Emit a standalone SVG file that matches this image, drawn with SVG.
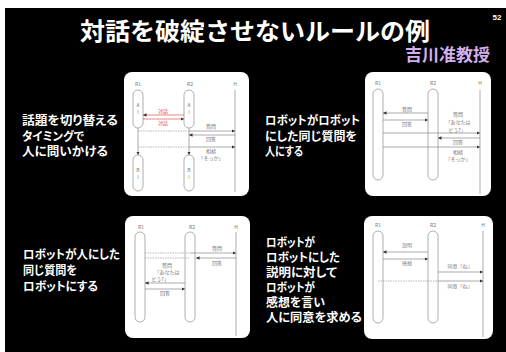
<svg xmlns="http://www.w3.org/2000/svg" width="506" height="352" viewBox="0 0 506 352">
<style>
.jp{font-family:"Noto Sans CJK JP","Liberation Sans",sans-serif}
.side{font-family:"Noto Sans CJK JP","Liberation Sans",sans-serif;font-size:12px;font-weight:bold;fill:#fff;font-feature-settings:"palt"}
.panel{fill:#fff}
.ll{fill:#fff;stroke:#999;stroke-width:0.8}
.ln{stroke:#888;stroke-width:0.7;fill:none}
.ar{stroke:#888;stroke-width:0.7;fill:none;marker-end:url(#ah)}
.ra{stroke:#d55;stroke-width:0.7;fill:none;marker-end:url(#ah)}
.dt{stroke:#999;stroke-width:0.7;stroke-dasharray:1.5 1;fill:none}
.lb{font-family:"Noto Sans CJK JP","Liberation Sans",sans-serif;font-size:5px;fill:#777;text-anchor:middle}
.rl{font-family:"Noto Sans CJK JP","Liberation Sans",sans-serif;font-size:5px;fill:#e44;text-anchor:middle}
</style>
<defs>
<marker id="ah" viewBox="0 0 6 6" refX="6" refY="3" markerWidth="3.5" markerHeight="3.5" markerUnits="userSpaceOnUse" orient="auto"><path d="M0,0L6,3L0,6z" fill="#333"/></marker>
</defs>
<rect x="0" y="0" width="506" height="352" fill="#fff"/>
<rect x="5" y="8" width="501" height="344" fill="#000"/>
<g id="title">
<text class="jp" x="255" y="40" font-size="24" font-weight="bold" fill="#fff" text-anchor="middle" textLength="350" lengthAdjust="spacingAndGlyphs">対話を破綻させないルールの例</text>
<text x="497" y="20" font-family="Liberation Sans,sans-serif" font-size="8" font-weight="bold" fill="#fff" text-anchor="middle">52</text>
<text class="jp" x="490" y="61" font-size="17" font-weight="bold" fill="#d2b0f0" text-anchor="end">吉川准教授</text>
</g>
<g id="text1" class="side">
<text x="22" y="125" textLength="96" lengthAdjust="spacingAndGlyphs">話題を切り替える</text>
<text x="22" y="141" textLength="62" lengthAdjust="spacingAndGlyphs">タイミングで</text>
<text x="22" y="156" textLength="86" lengthAdjust="spacingAndGlyphs">人に問いかける</text>
</g>
<g id="text2" class="side">
<text x="265" y="125" textLength="95" lengthAdjust="spacingAndGlyphs">ロボットがロボット</text>
<text x="265" y="141" textLength="92" lengthAdjust="spacingAndGlyphs">にした同じ質問を</text>
<text x="265" y="156" textLength="38" lengthAdjust="spacingAndGlyphs">人にする</text>
</g>
<g id="text3" class="side">
<text x="23" y="259" textLength="97" lengthAdjust="spacingAndGlyphs">ロボットが人にした</text>
<text x="23" y="275" textLength="54" lengthAdjust="spacingAndGlyphs">同じ質問を</text>
<text x="23" y="291" textLength="75" lengthAdjust="spacingAndGlyphs">ロボットにする</text>
</g>
<g id="text4" class="side">
<text x="266" y="247" textLength="49" lengthAdjust="spacingAndGlyphs">ロボットが</text>
<text x="266" y="262" textLength="74" lengthAdjust="spacingAndGlyphs">ロボットにした</text>
<text x="266" y="277" textLength="71" lengthAdjust="spacingAndGlyphs">説明に対して</text>
<text x="266" y="292" textLength="49" lengthAdjust="spacingAndGlyphs">ロボットが</text>
<text x="266" y="307" textLength="59" lengthAdjust="spacingAndGlyphs">感想を言い</text>
<text x="266" y="322" textLength="96" lengthAdjust="spacingAndGlyphs">人に同意を求める</text>
</g>
<g id="panel1">
<rect class="panel" x="124" y="72" width="125" height="124" rx="8"/>
<text class="lb" x="138" y="86">R1</text><text class="lb" x="190" y="86">R2</text><text class="lb" x="235" y="86">H</text>
<line class="ln" x1="235" y1="90" x2="235" y2="192"/>
<line class="ar" x1="138" y1="128" x2="138" y2="155"/>
<line class="ar" x1="189" y1="128" x2="189" y2="155"/>
<rect class="ll" x="133" y="90" width="10" height="38" rx="5"/>
<rect class="ll" x="184" y="90" width="10" height="38" rx="5"/>
<rect class="ll" x="133" y="155" width="10" height="36" rx="5"/>
<rect class="ll" x="184" y="155" width="10" height="36" rx="5"/>
<text class="lb" x="138" y="107">A</text><text class="lb" x="138" y="114">I</text>
<text class="lb" x="189" y="107">A</text><text class="lb" x="189" y="114">I</text>
<text class="lb" x="138" y="172">B</text><text class="lb" x="138" y="179">I</text>
<text class="lb" x="189" y="172">B</text><text class="lb" x="189" y="179">I</text>
</g>
<g id="panel2">
<rect class="panel" x="365" y="72" width="126" height="124" rx="8"/>
<text class="lb" x="378" y="85">R1</text><text class="lb" x="433" y="85">R2</text><text class="lb" x="480" y="85">H</text>
<line class="ln" x1="480" y1="90" x2="480" y2="194"/>
<rect class="ll" x="373" y="89" width="10" height="91" rx="5"/>
<rect class="ll" x="428" y="89" width="10" height="91" rx="5"/>
</g>
<g id="panel3">
<rect class="panel" x="125" y="216" width="125" height="122" rx="8"/>
<text class="lb" x="141" y="229">R1</text><text class="lb" x="192" y="229">R2</text><text class="lb" x="236" y="229">H</text>
<line class="ln" x1="236" y1="232" x2="236" y2="336"/>
<rect class="ll" x="135" y="232" width="10" height="90" rx="5"/>
<rect class="ll" x="185" y="232" width="10" height="90" rx="5"/>
</g>
<g id="panel4">
<rect class="panel" x="364" y="216" width="129" height="123" rx="8"/>
<text class="lb" x="378" y="227">R1</text><text class="lb" x="433" y="227">R2</text><text class="lb" x="483" y="227">H</text>
<line class="ln" x1="483" y1="231" x2="483" y2="337"/>
<rect class="ll" x="373" y="231" width="10" height="92" rx="5"/>
<rect class="ll" x="428" y="231" width="10" height="92" rx="5"/>
</g>
<g id="connectors">
<line class="ra" x1="184" y1="115" x2="143" y2="115"/>
<text class="rl" x="163" y="113">対話</text>
<line class="ra" x1="143" y1="119" x2="184" y2="119"/>
<text class="rl" x="163" y="125">対話</text>
<line class="dt" x1="138" y1="131" x2="189" y2="131"/>
<line class="ar" x1="189" y1="131" x2="235" y2="131"/>
<text class="lb" x="211" y="128">質問</text>
<line class="ar" x1="235" y1="135" x2="189" y2="135"/>
<text class="lb" x="211" y="141">回答</text>
<line class="dt" x1="138" y1="147" x2="189" y2="147"/>
<line class="ar" x1="189" y1="147" x2="235" y2="147"/>
<text class="lb" x="211" y="153">相槌</text>
<text class="lb" x="211" y="160">「そっか」</text>

<line class="ar" x1="428" y1="113" x2="383" y2="113"/>
<text class="lb" x="407" y="111">質問</text>
<line class="ar" x1="383" y1="120" x2="428" y2="120"/>
<text class="lb" x="407" y="126">回答</text>
<line class="ar" x1="383" y1="133" x2="480" y2="133"/>
<text class="lb" x="458" y="116">質問</text>
<text class="lb" x="458" y="124">「あなたは</text>
<text class="lb" x="457" y="132">どう?」</text>
<line class="ar" x1="480" y1="138" x2="438" y2="138"/>
<text class="lb" x="458" y="144">回答</text>
<line class="ar" x1="383" y1="147" x2="480" y2="147"/>
<text class="lb" x="458" y="154">相槌</text>
<text class="lb" x="458" y="161">「そっか」</text>

<line class="dt" x1="145" y1="253" x2="190" y2="253"/>
<line class="ar" x1="190" y1="253" x2="236" y2="253"/>
<text class="lb" x="217" y="250">質問</text>
<line class="dt" x1="145" y1="258" x2="190" y2="258"/>
<line class="ar" x1="236" y1="258" x2="196" y2="258"/>
<text class="lb" x="217" y="265">回答</text>
<line class="ar" x1="185" y1="283" x2="145" y2="283"/>
<text class="lb" x="167" y="267">質問</text>
<text class="lb" x="167" y="274">「あなたは</text>
<text class="lb" x="160" y="281">どう?」</text>
<line class="ar" x1="145" y1="289" x2="185" y2="289"/>
<text class="lb" x="165" y="295">回答</text>

<line class="ar" x1="428" y1="252" x2="383" y2="252"/>
<text class="lb" x="407" y="247">説明</text>
<line class="ar" x1="383" y1="259" x2="428" y2="259"/>
<text class="lb" x="407" y="265">感想</text>
<line class="ar" x1="438" y1="272" x2="483" y2="272"/>
<text class="lb" x="460" y="268">同意「ね」</text>
<line class="dt" x1="378" y1="281" x2="438" y2="281"/>
<line class="ar" x1="438" y1="281" x2="483" y2="281"/>
<text class="lb" x="460" y="288">同意「ね」</text>
</g>
</svg>
